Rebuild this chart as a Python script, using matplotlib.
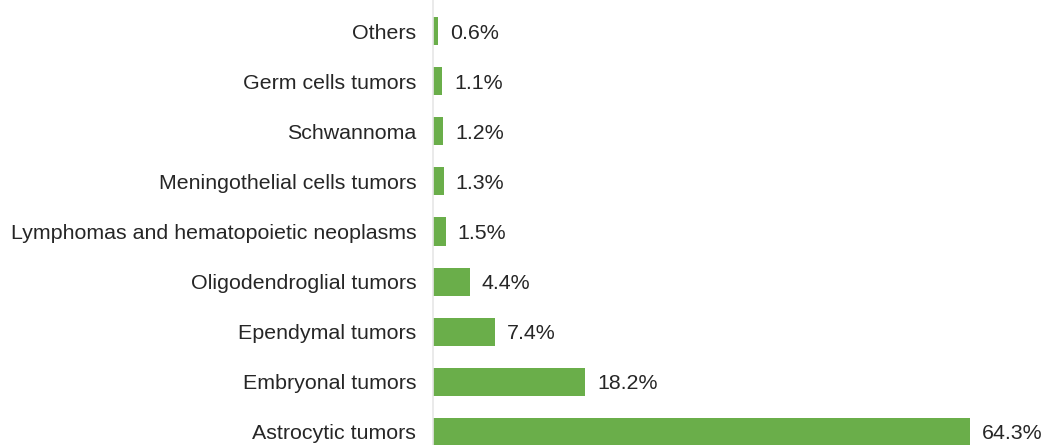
import matplotlib.pyplot as plt

plt.rcParams['font.family'] = ['Liberation Sans', 'DejaVu Sans']

# categories from bottom to top
tipos = ["Astrocytic tumors", "Embryonal tumors", "Ependymal tumors",
         "Oligodendroglial tumors", "Lymphomas and hematopoietic neoplasms",
         "Meningothelial cells tumors", "Schwannoma", "Germ cells tumors", "Others"]
porcentajes = [64.3, 18.2, 7.4, 4.4, 1.5, 1.3, 1.2, 1.1, 0.6]
etiquetas = ["64.3%", "18.2%", "7.4%", "4.4%", "1.5%", "1.3%", "1.2%", "1.1%", "0.6%"]

fig = plt.figure(figsize=(10.47, 4.45), dpi=100)
ax = fig.add_axes([433/1047, 0, 601/1047, 1])

pos = range(len(tipos))
barras = ax.barh(pos, porcentajes, height=0.56, color='#6aae4a')

for b, txt in zip(barras, etiquetas):
    ax.annotate(txt, (b.get_width(), b.get_y() + b.get_height()/2),
                xytext=(12, 0), textcoords='offset pixels',
                va='center_baseline', ha='left', fontsize=15.4, color='#262626')

ax.set_yticks(list(pos))
ax.set_yticklabels(tipos, fontsize=15.4, color='#262626')
ax.tick_params(axis='y', length=0, pad=12)
ax.set_xticks([])
ax.set_xlim(0, 72)
ax.set_ylim(-0.26, 8.62)

for s in ['top', 'right', 'bottom']:
    ax.spines[s].set_visible(False)
ax.spines['left'].set_color('#e6e6e6')
ax.spines['left'].set_linewidth(1.2)

fig.savefig("out.png", dpi=100)
